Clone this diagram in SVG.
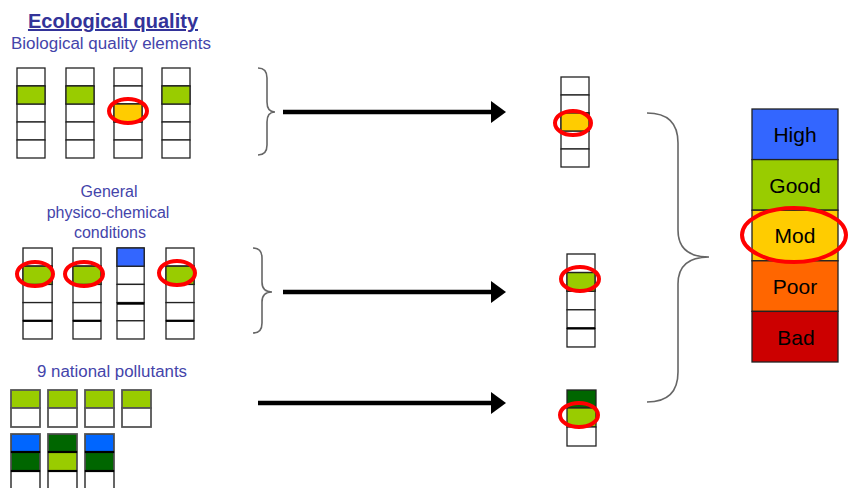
<svg xmlns="http://www.w3.org/2000/svg" width="848" height="488" viewBox="0 0 848 488">
  <style>
    .title { font-family: "Liberation Sans", Arial, sans-serif; font-size: 20px; font-weight: bold; fill: #333399; text-decoration: underline; }
    .label { font-family: "Liberation Sans", Arial, sans-serif; font-size: 16px; fill: #4444aa; }
    .class { font-family: "Liberation Sans", Arial, sans-serif; font-size: 21px; fill: #000; }
    .cell { stroke: #222; stroke-width: 1.3; }
    .blk { stroke: #555; stroke-width: 1.8; }
    .w { fill: #fff; }
    .g { fill: #99cc00; }
    .y { fill: #ffcc00; }
    .b { fill: #3366ff; }
    .b2 { fill: #0066ff; }
    .dg { fill: #006600; }
    .thick { stroke: #000; stroke-width: 2.2; }
    .ring { fill: none; stroke: #ff0000; stroke-width: 4; }
    .brace { fill: none; stroke: #666; stroke-width: 1.6; }
    .arrow { fill: none; stroke: #000; stroke-width: 4.5; marker-end: url(#head); }
  </style>
  <defs>
    <marker id="head" markerUnits="userSpaceOnUse" markerWidth="16" markerHeight="22" refX="0" refY="11" orient="auto">
      <path d="M0,0 L15,11 L0,22 z" fill="#000"/>
    </marker>
    <!-- five-row indicator column, 28 x 90 -->
    <g id="col5">
      <rect class="cell w" x="0" y="0" width="28" height="18"/>
      <rect class="cell w" x="0" y="18" width="28" height="18"/>
      <rect class="cell w" x="0" y="36" width="28" height="18"/>
      <rect class="cell w" x="0" y="54" width="28" height="18"/>
      <rect class="cell w" x="0" y="72" width="28" height="18"/>
    </g>
    <!-- three-row pollutant block, 29 x 57 -->
    <g id="blk3">
      <rect class="blk" x="0" y="0" width="29" height="18"/>
      <rect class="blk" x="0" y="18" width="29" height="19"/>
      <rect class="blk w" x="0" y="37" width="29" height="20"/>
      <line class="thick" x1="0" y1="18" x2="29" y2="18"/>
      <line class="thick" x1="0" y1="37" x2="29" y2="37"/>
    </g>
  </defs>

  <rect width="848" height="488" fill="#fff"/>

  <!-- headings -->
  <g id="headings">
    <text class="title" x="113" y="28" text-anchor="middle">Ecological quality</text>
    <text class="label" x="111" y="49" text-anchor="middle" textLength="200" lengthAdjust="spacingAndGlyphs">Biological quality elements</text>
    <text class="label" x="109" y="197" text-anchor="middle">General</text>
    <text class="label" x="108" y="218" text-anchor="middle">physico-chemical</text>
    <text class="label" x="110" y="238" text-anchor="middle">conditions</text>
    <text class="label" x="112" y="377" text-anchor="middle" textLength="150" lengthAdjust="spacingAndGlyphs">9 national pollutants</text>
  </g>

  <!-- biological quality elements -->
  <g id="bio">
    <use href="#col5" x="17" y="68"/>
    <rect class="cell g" x="17" y="86" width="28" height="18"/>
    <use href="#col5" x="66" y="68"/>
    <rect class="cell g" x="66" y="86" width="28" height="18"/>
    <use href="#col5" x="114" y="68"/>
    <rect class="cell y" x="114" y="104" width="28" height="18"/>
    <ellipse class="ring" cx="128" cy="111" rx="19" ry="12"/>
    <use href="#col5" x="162" y="68"/>
    <rect class="cell g" x="162" y="86" width="28" height="18"/>
  </g>

  <!-- general physico-chemical conditions -->
  <g id="physchem">
    <g transform="translate(23,248) scale(1.04,1.011)">
      <use href="#col5"/>
      <rect class="cell g" x="0" y="18" width="28" height="18"/>
      <line class="thick" x1="0" y1="72" x2="28" y2="72"/>
    </g>
    <ellipse class="ring" cx="35" cy="274" rx="18" ry="12"/>
    <g transform="translate(73,248) scale(1.0,1.011)">
      <use href="#col5"/>
      <rect class="cell g" x="0" y="18" width="28" height="18"/>
      <line class="thick" x1="0" y1="72" x2="28" y2="72"/>
    </g>
    <ellipse class="ring" cx="84" cy="274" rx="19" ry="12"/>
    <g transform="translate(117,248) scale(0.97,1.011)">
      <use href="#col5"/>
      <rect class="cell b" x="0" y="0" width="28" height="18"/>
      <line class="thick" x1="0" y1="55" x2="28" y2="55"/>
    </g>
    <g transform="translate(166,248) scale(1.0,1.011)">
      <use href="#col5"/>
      <rect class="cell g" x="0" y="18" width="28" height="18"/>
      <line class="thick" x1="0" y1="72" x2="28" y2="72"/>
    </g>
    <ellipse class="ring" cx="177" cy="273" rx="18" ry="12"/>
  </g>

  <!-- national pollutants -->
  <g id="pollutants">
    <rect class="blk g" x="11" y="390" width="29" height="18"/>
    <rect class="blk w" x="11" y="408" width="29" height="19"/>
    <rect class="blk g" x="48" y="390" width="29" height="18"/>
    <rect class="blk w" x="48" y="408" width="29" height="19"/>
    <rect class="blk g" x="85" y="390" width="29" height="18"/>
    <rect class="blk w" x="85" y="408" width="29" height="19"/>
    <rect class="blk g" x="122" y="390" width="29" height="18"/>
    <rect class="blk w" x="122" y="408" width="29" height="19"/>

    <g transform="translate(11,434)">
      <use href="#blk3"/>
      <rect class="b2" x="0.9" y="0.9" width="27.2" height="16"/>
      <rect class="dg" x="0.9" y="19.1" width="27.2" height="16.8"/>
    </g>
    <g transform="translate(48,434)">
      <use href="#blk3"/>
      <rect class="dg" x="0.9" y="0.9" width="27.2" height="16"/>
      <rect class="g" x="0.9" y="19.1" width="27.2" height="16.8"/>
    </g>
    <g transform="translate(85,434)">
      <use href="#blk3"/>
      <rect class="b2" x="0.9" y="0.9" width="27.2" height="16"/>
      <rect class="dg" x="0.9" y="19.1" width="27.2" height="16.8"/>
    </g>
  </g>

  <!-- combined results per group -->
  <g id="result-bio">
    <use href="#col5" x="561" y="77"/>
    <rect class="cell y" x="561" y="113" width="28" height="18"/>
    <ellipse class="ring" cx="573" cy="123" rx="18" ry="12"/>
  </g>
  <g id="result-physchem">
    <g transform="translate(567,254) scale(1.0,1.033)">
      <use href="#col5"/>
      <rect class="cell g" x="0" y="18" width="28" height="18"/>
      <line class="thick" x1="0" y1="72" x2="28" y2="72"/>
    </g>
    <ellipse class="ring" cx="580" cy="279" rx="19" ry="12"/>
  </g>
  <g id="result-pollutants">
    <rect class="cell dg" x="567" y="390" width="29" height="18"/>
    <rect class="cell g" x="567" y="408" width="29" height="19"/>
    <rect class="cell w" x="567" y="427" width="29" height="19"/>
    <ellipse class="ring" cx="579" cy="415" rx="19" ry="12"/>
  </g>

  <!-- status classes -->
  <g id="classes">
    <rect class="cell b" x="752" y="109" width="86" height="50.6"/>
    <rect class="cell g" x="752" y="159.6" width="86" height="50.6"/>
    <rect class="cell y" x="752" y="210.2" width="86" height="50.6"/>
    <rect class="cell" fill="#ff6600" x="752" y="260.8" width="86" height="50.6"/>
    <rect class="cell" fill="#cc0000" x="752" y="311.4" width="86" height="50.6"/>
    <text class="class" x="795" y="142" text-anchor="middle">High</text>
    <text class="class" x="795" y="193" text-anchor="middle">Good</text>
    <text class="class" x="795" y="243" text-anchor="middle">Mod</text>
    <text class="class" x="795" y="294" text-anchor="middle">Poor</text>
    <text class="class" x="796" y="345" text-anchor="middle">Bad</text>
    <ellipse class="ring" cx="794" cy="235" rx="52" ry="27"/>
  </g>

  <!-- braces and arrows -->
  <g id="connectors">
    <path class="brace" d="M258,68 Q267,68 267,78 L267,102 Q267,112 275,112 Q267,112 267,122 L267,145 Q267,155 258,155"/>
    <path class="brace" d="M253,248 Q262,248 262,258 L262,282 Q262,292 272,292 Q262,292 262,302 L262,323 Q262,333 253,333"/>
    <path class="brace" d="M647,113 Q678,113 678,143 L678,230 Q678,257 709,257 Q678,257 678,284 L678,372 Q678,402 647,402"/>
    <line class="arrow" x1="283" y1="112" x2="491" y2="112"/>
    <line class="arrow" x1="283" y1="292" x2="491" y2="292"/>
    <line class="arrow" x1="258" y1="403" x2="491" y2="403"/>
  </g>
</svg>
